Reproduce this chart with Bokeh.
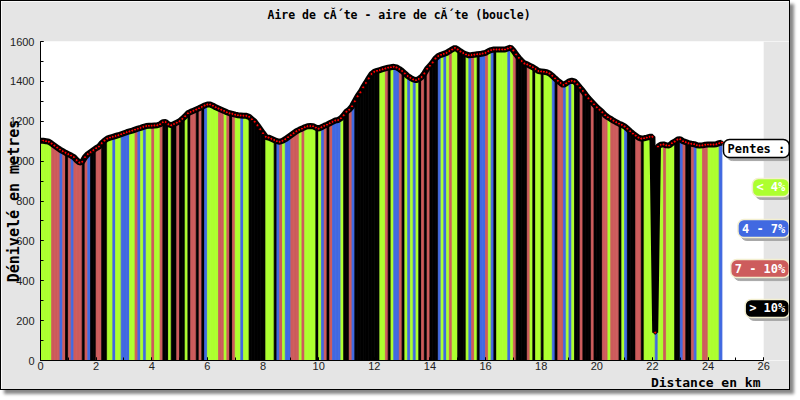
import math
from bokeh.plotting import figure
from bokeh.models import ColumnDataSource, Label, SingleIntervalTicker, Title
from bokeh.embed import file_html
from bokeh.resources import INLINE

# ---- data ----
elevation_m = [
    1102, 1102, 1100, 1097, 1088, 1078, 1068, 1058, 1050, 1042,
    1035, 1028, 1020, 1005, 993, 997, 1020, 1035, 1045, 1055,
    1065, 1073, 1090, 1103, 1113, 1118, 1122, 1126, 1130, 1135,
    1140, 1145, 1149, 1153, 1158, 1163, 1167, 1172, 1176, 1177,
    1178, 1179, 1180, 1185, 1195, 1196, 1185, 1180, 1186, 1193,
    1200, 1212, 1225, 1240, 1247, 1253, 1259, 1265, 1272, 1279,
    1284, 1284, 1278, 1270, 1264, 1258, 1252, 1245, 1240, 1237,
    1233, 1230, 1229, 1228, 1227, 1222, 1210, 1198, 1180, 1160,
    1140, 1122, 1118, 1112, 1106, 1100, 1097, 1102, 1110, 1120,
    1130, 1140, 1150, 1157, 1163, 1170, 1175, 1176, 1175, 1168,
    1163, 1170, 1177, 1183, 1190, 1197, 1204, 1206, 1215, 1230,
    1248, 1258, 1275, 1300, 1325, 1345, 1370, 1392, 1415, 1437,
    1448, 1453, 1457, 1461, 1465, 1469, 1471, 1473, 1470, 1462,
    1452, 1440, 1427, 1418, 1410, 1406, 1412, 1422, 1440, 1463,
    1478, 1495, 1515, 1527, 1533, 1538, 1543, 1552, 1560, 1568,
    1560, 1550, 1542, 1535, 1531, 1532, 1534, 1536, 1537, 1540,
    1543, 1551, 1557, 1560, 1560, 1560, 1560, 1560, 1565, 1570,
    1555, 1535, 1518, 1502, 1490, 1485, 1478, 1471, 1462, 1452,
    1450, 1448, 1446, 1440, 1428, 1415, 1403, 1392, 1382, 1390,
    1400, 1403, 1400, 1385, 1368, 1352, 1333, 1315, 1300, 1285,
    1270, 1258, 1245, 1230, 1220, 1212, 1203, 1195, 1188, 1182,
    1174, 1163, 1150, 1138, 1128, 1118, 1113, 1115, 1118, 1122,
    1122, 140, 1073, 1082, 1084, 1079, 1078, 1090, 1098, 1108,
    1110, 1100, 1095, 1090, 1087, 1085, 1080, 1078, 1079, 1082,
    1083, 1083, 1083, 1085, 1090, 1093,
]
step_km = 0.1

# slope class of each segment: G <4%, B 4-7%, R 7-10%, K >10%
slope_class = (
    "GGGG" "RRRBR" "KRBRRR" "KRBKK" "RRKK" "GGBGGBBB" "GGRBGB" "GGRGGR" "KKGKKRKKGK"
    "RRKRK" "BGGGG" "RRGRKR" "GGBGG" "KKKKKK" "GGG" "KBRGBB" "RRRGR" "GGGG" "KGBRKRBBB"
    "G" "KK" "RB" "KKKKKKKKK" "GG" "R" "K" "GBB" "R" "K" "GBGBG" "K" "R" "K" "R" "KKK"
    "BGBGRGG" "KKK" "GBRG" "K" "BBRG"
    "BK" "GGGG" "BGR" "KKKK" "RGK" "GGK" "GGGB" "K" "RRBGBG" "KKR" "KKK" "RKKK"
    "RRGRRR" "KGB" "KKK" "RR"
    "KGGGGBGGRGGGKKBRKKRBGGRRGGGGB"
)

class_codes = ["G", "B", "R", "K"]
class_colors = ["#adff2f", "#4169e1", "#cd5c5c", "#000000"]
legend_labels = ["< 4%", "4 - 7%", "7 - 10%", "> 10%"]
legend_title = "Pentes :"

title_text = "Aire de c\u0102\u00b4te - aire de c\u0102\u00b4te (boucle)"
x_label = "Distance en km"
y_label = "D\u00e9nivel\u00e9 en metres"

x_axis_max = 26
y_axis_max = 1600

# ---- build ----
n = len(elevation_m)
distance_km = [round(i * step_km, 2) for i in range(n)]
color_of = dict(zip(class_codes, class_colors))

seg_xs, seg_ys, seg_col = [], [], []
for i in range(n - 1):
    seg_xs.append([distance_km[i], distance_km[i + 1], distance_km[i + 1], distance_km[i]])
    seg_ys.append([0, 0, elevation_m[i + 1], elevation_m[i]])
    seg_col.append(color_of[slope_class[i]])

seg_src = ColumnDataSource(dict(xs=seg_xs, ys=seg_ys, color=seg_col))
pt_src = ColumnDataSource(dict(x=distance_km, y=elevation_m))

BG = "#e5e5e5"
mono = "DejaVu Sans Mono"
x_end = 27.0  # frame extends right to hold the legend

p = figure(
    width=790, height=390,
    x_range=(0, x_end), y_range=(0, y_axis_max),
    output_backend="svg", toolbar_location=None,
    title=title_text,
    min_border_left=39, min_border_right=0, min_border_top=40, min_border_bottom=31,
    background_fill_color="white", border_fill_color=BG, outline_line_color=None,
    styles={"border": "1px solid #000", "box-shadow": "4px 4px 3px #888"},
)

# spacer between frame and title
p.add_layout(Title(text=" ", text_font_size="1px", standoff=14), "above")

p.title.align = "left"
p.title.offset = 227
p.title.standoff = 6
p.title.text_font = mono
p.title.text_font_style = "bold"
p.title.text_font_size = "11.5px"
p.title.text_color = "black"

p.add_layout(Title(text=x_label, align="right", offset=31, standoff=0, text_font=mono,
                   text_font_style="bold", text_font_size="13px", text_color="black"),
             "below")

# grey strip right of the x axis end (legend area)
p.quad(left=[x_axis_max], right=[x_end], bottom=[0], top=[y_axis_max],
       fill_color=BG, line_color=None)

p.patches("xs", "ys", source=seg_src, fill_color="color", line_color="color", line_width=0.8)
p.line("x", "y", source=pt_src, line_color="black", line_width=6)
p.scatter("x", "y", source=pt_src, size=3, fill_color="red", line_color="black", line_width=1)

p.xaxis.ticker = SingleIntervalTicker(interval=2, num_minor_ticks=2)
p.yaxis.ticker = SingleIntervalTicker(interval=200, num_minor_ticks=2)
p.xaxis.bounds = (0, x_axis_max)
p.xgrid.visible = False
p.ygrid.grid_line_color = "#d8d8d8"
p.ygrid.bounds = (0, x_axis_max)
for ax in (p.xaxis[0], p.yaxis[0]):
    ax.axis_line_color = "black"
    ax.major_tick_in = 3
    ax.major_tick_out = 0
    ax.minor_tick_in = 3
    ax.minor_tick_out = 0
    ax.major_label_text_font = "Liberation Sans"
    ax.major_label_text_font_size = "11px"
    ax.major_label_text_color = "#222222"
p.xaxis.major_label_standoff = 1
p.yaxis.major_label_standoff = 6
p.yaxis.axis_label = y_label
p.yaxis.axis_label_standoff = -16
p.yaxis.axis_label_text_font = mono
p.yaxis.axis_label_text_font_style = "bold"
p.yaxis.axis_label_text_font_size = "15px"
p.yaxis.axis_label_text_color = "black"

# legend boxes
leg_x = 26.92
leg_y = [1063, 868, 662, 461, 261]
texts = [legend_title] + legend_labels
fills = ["white"] + class_colors
tcols = ["black"] + ["white"] * 4
borders = ["black"] + ["#f3efd0"] * 4
for t, yy, fc, tc, bc in zip(texts, leg_y, fills, tcols, borders):
    p.add_layout(Label(x=leg_x, y=yy, x_offset=3, y_offset=-3, text=t, text_font=mono,
                       text_font_style="bold", text_font_size="12px", text_align="right",
                       text_baseline="middle", text_color="#a8a8a8",
                       background_fill_color="#a8a8a8", border_line_color="#a8a8a8",
                       padding=(4, 2), border_radius=6))
    p.add_layout(Label(x=leg_x, y=yy, text=t, text_font=mono, text_font_style="bold",
                       text_font_size="12px", text_align="right", text_baseline="middle",
                       text_color=tc, background_fill_color=fc, border_line_color=bc,
                       border_line_width=1.5, padding=(4, 2), border_radius=6))

open("out.html", "w", encoding="utf-8").write(file_html(p, INLINE))
